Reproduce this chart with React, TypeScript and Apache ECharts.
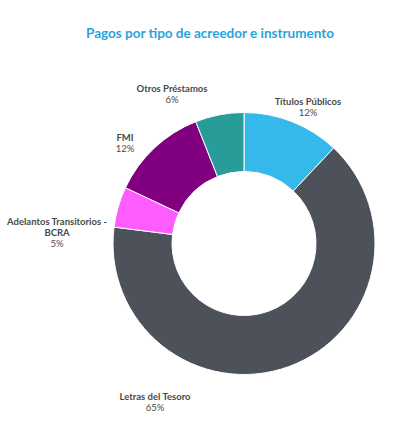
import React, { useEffect, useRef } from 'react'
import * as echarts from 'echarts'

const categories = [
  'Títulos Públicos',
  'Letras del Tesoro',
  'Adelantos Transitorios -\nBCRA',
  'FMI',
  'Otros Préstamos'
]
const shares = [12, 65, 5, 12, 6]
const colors = ['#35b8ea', '#4d515a', '#ff5cff', '#800080', '#279c99']

// where each label sits (px, chart coords) — labels are placed by hand, no leader lines
const labelSpots: [number, number][] = [
  [308, 107],
  [155, 402],
  [57, 232],
  [125, 143],
  [172, 94]
]

const App: React.FC = () => {
  const chartRef = useRef<HTMLDivElement>(null)

  useEffect(() => {
    document.body.style.margin = '0'
    if (!chartRef.current) return
    const chart = echarts.init(chartRef.current, undefined, { renderer: 'svg' })

    const option: echarts.EChartsOption = {
      animation: false,
      backgroundColor: '#ffffff',
      title: {
        text: 'Pagos por tipo de acreedor e instrumento',
        left: 'center',
        top: 21,
        textStyle: {
          fontFamily: 'Lato',
          fontSize: 13.5,
          fontWeight: 'bold',
          color: '#2aa3dc'
        }
      },
      series: [
        {
          type: 'pie',
          center: [244, 243.5],
          radius: [72, 131],
          startAngle: 90,
          clockwise: true,
          itemStyle: { borderColor: '#ffffff', borderWidth: 1 },
          labelLine: { show: false },
          label: {
            show: true,
            position: 'outside',
            overflow: 'none',
            width: 200,
            formatter: (p: any) => `{n|${p.name}}\n{v|${p.value}%}`,
            align: 'center',
            rich: {
              n: {
                fontFamily: 'Lato',
                fontSize: 9.5,
                fontWeight: 'bold',
                color: '#4a4a4a',
                lineHeight: 11,
                align: 'center'
              },
              v: {
                fontFamily: 'Lato',
                fontSize: 9.5,
                color: '#4a4a4a',
                lineHeight: 11,
                align: 'center'
              }
            }
          },
          labelLayout: (params: any) => {
            const spot = labelSpots[params.dataIndex]
            return {
              x: spot[0],
              y: spot[1],
              align: 'center',
              verticalAlign: 'middle'
            }
          },
          data: categories.map((name, i) => ({
            name,
            value: shares[i],
            itemStyle: { color: colors[i] }
          }))
        }
      ]
    }

    chart.setOption(option)
    return () => {
      chart.dispose()
    }
  }, [])

  return <div ref={chartRef} style={{ width: 420, height: 435 }} />
}

export default App
